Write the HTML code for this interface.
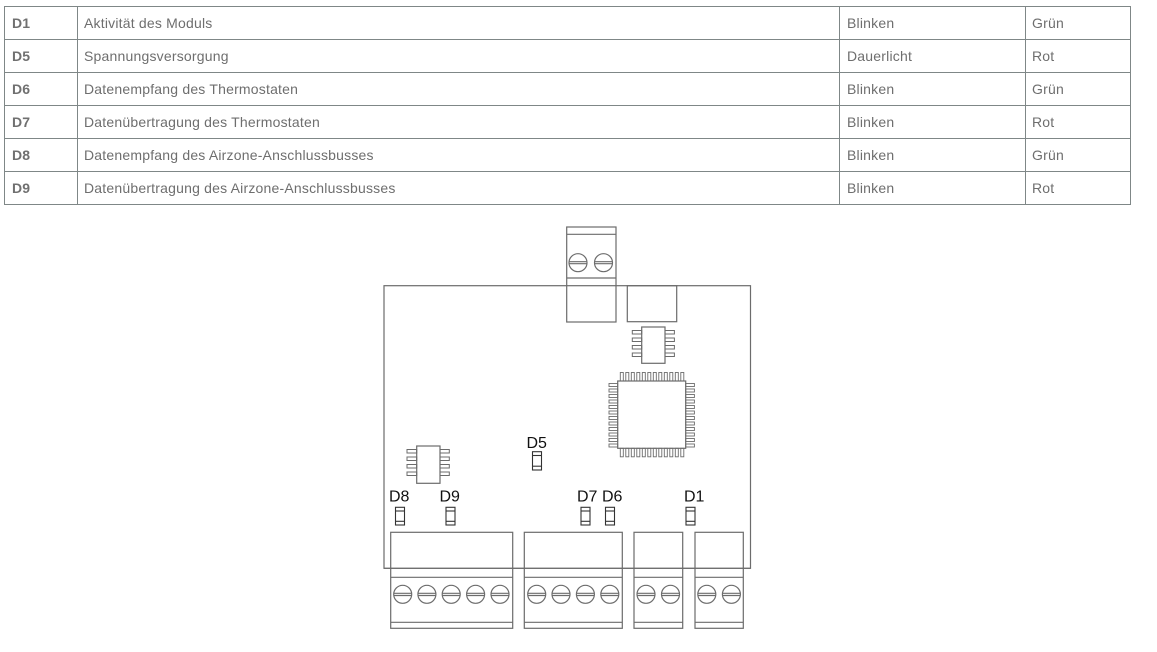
<!DOCTYPE html>
<html><head><meta charset="utf-8"><style>
html,body{margin:0;padding:0;background:#fff;}
svg{display:block;}
</style></head><body>
<svg width="1157" height="652" viewBox="0 0 1157 652" xmlns="http://www.w3.org/2000/svg">
<rect width="1157" height="652" fill="#fff"/>
<!-- Table -->
<g stroke="#7f8787" stroke-width="1" fill="none" shape-rendering="crispEdges">
<rect x="4.5" y="6.5" width="1126" height="198"/>
<line x1="4.5" y1="39.5" x2="1130.5" y2="39.5"/>
<line x1="4.5" y1="72.5" x2="1130.5" y2="72.5"/>
<line x1="4.5" y1="105.5" x2="1130.5" y2="105.5"/>
<line x1="4.5" y1="138.5" x2="1130.5" y2="138.5"/>
<line x1="4.5" y1="171.5" x2="1130.5" y2="171.5"/>
<line x1="77.5" y1="6.5" x2="77.5" y2="204.5"/>
<line x1="839.5" y1="6.5" x2="839.5" y2="204.5"/>
<line x1="1025.5" y1="6.5" x2="1025.5" y2="204.5"/>
</g>
<g font-family="Liberation Sans, Arial, sans-serif" font-size="14" fill="#6e6e6e" letter-spacing="0.2">
<g font-weight="bold" fill="#707070">
<text x="12" y="28">D1</text>
<text x="12" y="61">D5</text>
<text x="12" y="94">D6</text>
<text x="12" y="127">D7</text>
<text x="12" y="160">D8</text>
<text x="12" y="193">D9</text>
</g>
<text x="84" y="28">Aktivität des Moduls</text>
<text x="84" y="61">Spannungsversorgung</text>
<text x="84" y="94">Datenempfang des Thermostaten</text>
<text x="84" y="127">Datenübertragung des Thermostaten</text>
<text x="84" y="160">Datenempfang des Airzone-Anschlussbusses</text>
<text x="84" y="193">Datenübertragung des Airzone-Anschlussbusses</text>
<text x="847" y="28">Blinken</text>
<text x="847" y="61">Dauerlicht</text>
<text x="847" y="94">Blinken</text>
<text x="847" y="127">Blinken</text>
<text x="847" y="160">Blinken</text>
<text x="847" y="193">Blinken</text>
<text x="1032" y="28">Grün</text>
<text x="1032" y="61">Rot</text>
<text x="1032" y="94">Grün</text>
<text x="1032" y="127">Rot</text>
<text x="1032" y="160">Grün</text>
<text x="1032" y="193">Rot</text>
</g>

<!-- Board diagram -->
<g stroke="#6c6c6c" stroke-width="1.2" fill="none">
<!-- board -->
<rect x="384" y="285.7" width="366.5" height="282.6"/>
<!-- top connector -->
<rect x="566.7" y="227" width="49.3" height="95"/>
<line x1="566.7" y1="234.3" x2="616" y2="234.3"/>
<line x1="566.7" y1="278" x2="616" y2="278"/>
<circle cx="578" cy="262.7" r="9"/>
<line x1="569" y1="261.7" x2="587" y2="261.7"/>
<line x1="569" y1="263.7" x2="587" y2="263.7"/>
<circle cx="603.5" cy="262.7" r="9"/>
<line x1="594.5" y1="261.7" x2="612.5" y2="261.7"/>
<line x1="594.5" y1="263.7" x2="612.5" y2="263.7"/>
<!-- box -->
<rect x="627.3" y="285.7" width="49.4" height="36"/>
<!-- small chip top -->
<rect x="641.7" y="327" width="23.3" height="36.3"/>
<g stroke-width="1">
<rect x="632.3" y="330.5" width="9.4" height="3.5"/>
<rect x="632.3" y="338" width="9.4" height="3.5"/>
<rect x="632.3" y="345.5" width="9.4" height="3.5"/>
<rect x="632.3" y="353" width="9.4" height="3.5"/>
<rect x="665" y="330.5" width="9.4" height="3.5"/>
<rect x="665" y="338" width="9.4" height="3.5"/>
<rect x="665" y="345.5" width="9.4" height="3.5"/>
<rect x="665" y="353" width="9.4" height="3.5"/>
</g>
<!-- small chip left -->
<rect x="416.7" y="446" width="23.3" height="37.3"/>
<g stroke-width="1">
<rect x="407" y="449.5" width="9.7" height="3.5"/>
<rect x="407" y="457" width="9.7" height="3.5"/>
<rect x="407" y="464.5" width="9.7" height="3.5"/>
<rect x="407" y="472" width="9.7" height="3.5"/>
<rect x="440" y="449.5" width="9.3" height="3.5"/>
<rect x="440" y="457" width="9.3" height="3.5"/>
<rect x="440" y="464.5" width="9.3" height="3.5"/>
<rect x="440" y="472" width="9.3" height="3.5"/>
</g>
<!-- QFP chip -->
<rect x="617.7" y="381" width="68" height="67.3"/>
<g stroke-width="0.9">
<rect x="620.3" y="372.5" width="3" height="8.5"/>
<rect x="625.8" y="372.5" width="3" height="8.5"/>
<rect x="631.3" y="372.5" width="3" height="8.5"/>
<rect x="636.8" y="372.5" width="3" height="8.5"/>
<rect x="642.3" y="372.5" width="3" height="8.5"/>
<rect x="647.8" y="372.5" width="3" height="8.5"/>
<rect x="653.3" y="372.5" width="3" height="8.5"/>
<rect x="658.8" y="372.5" width="3" height="8.5"/>
<rect x="664.3" y="372.5" width="3" height="8.5"/>
<rect x="669.8" y="372.5" width="3" height="8.5"/>
<rect x="675.3" y="372.5" width="3" height="8.5"/>
<rect x="680.8" y="372.5" width="3" height="8.5"/>

<rect x="620.3" y="448.3" width="3" height="8.5"/>
<rect x="625.8" y="448.3" width="3" height="8.5"/>
<rect x="631.3" y="448.3" width="3" height="8.5"/>
<rect x="636.8" y="448.3" width="3" height="8.5"/>
<rect x="642.3" y="448.3" width="3" height="8.5"/>
<rect x="647.8" y="448.3" width="3" height="8.5"/>
<rect x="653.3" y="448.3" width="3" height="8.5"/>
<rect x="658.8" y="448.3" width="3" height="8.5"/>
<rect x="664.3" y="448.3" width="3" height="8.5"/>
<rect x="669.8" y="448.3" width="3" height="8.5"/>
<rect x="675.3" y="448.3" width="3" height="8.5"/>
<rect x="680.8" y="448.3" width="3" height="8.5"/>

<rect x="609" y="383.5" width="8.7" height="3"/>
<rect x="609" y="389" width="8.7" height="3"/>
<rect x="609" y="394.5" width="8.7" height="3"/>
<rect x="609" y="400" width="8.7" height="3"/>
<rect x="609" y="405.5" width="8.7" height="3"/>
<rect x="609" y="411" width="8.7" height="3"/>
<rect x="609" y="416.5" width="8.7" height="3"/>
<rect x="609" y="422" width="8.7" height="3"/>
<rect x="609" y="427.5" width="8.7" height="3"/>
<rect x="609" y="433" width="8.7" height="3"/>
<rect x="609" y="438.5" width="8.7" height="3"/>
<rect x="609" y="444" width="8.7" height="3"/>

<rect x="685.7" y="383.5" width="8.7" height="3"/>
<rect x="685.7" y="389" width="8.7" height="3"/>
<rect x="685.7" y="394.5" width="8.7" height="3"/>
<rect x="685.7" y="400" width="8.7" height="3"/>
<rect x="685.7" y="405.5" width="8.7" height="3"/>
<rect x="685.7" y="411" width="8.7" height="3"/>
<rect x="685.7" y="416.5" width="8.7" height="3"/>
<rect x="685.7" y="422" width="8.7" height="3"/>
<rect x="685.7" y="427.5" width="8.7" height="3"/>
<rect x="685.7" y="433" width="8.7" height="3"/>
<rect x="685.7" y="438.5" width="8.7" height="3"/>
<rect x="685.7" y="444" width="8.7" height="3"/>
</g>
</g>

<!-- LEDs -->
<g stroke="#333" stroke-width="1.1" fill="none">
<rect x="532.5" y="451.7" width="9" height="18.3"/>
<line x1="532.5" y1="455.5" x2="541.5" y2="455.5"/>
<line x1="532.5" y1="466.2" x2="541.5" y2="466.2"/>

<rect x="395.5" y="507.3" width="9" height="17.7"/>
<line x1="395.5" y1="511" x2="404.5" y2="511"/>
<line x1="395.5" y1="521.3" x2="404.5" y2="521.3"/>

<rect x="446" y="507.3" width="9" height="17.7"/>
<line x1="446" y1="511" x2="455" y2="511"/>
<line x1="446" y1="521.3" x2="455" y2="521.3"/>

<rect x="581" y="507.3" width="9" height="17.7"/>
<line x1="581" y1="511" x2="590" y2="511"/>
<line x1="581" y1="521.3" x2="590" y2="521.3"/>

<rect x="605.5" y="507.3" width="9" height="17.7"/>
<line x1="605.5" y1="511" x2="614.5" y2="511"/>
<line x1="605.5" y1="521.3" x2="614.5" y2="521.3"/>

<rect x="686" y="507.3" width="9" height="17.7"/>
<line x1="686" y1="511" x2="695" y2="511"/>
<line x1="686" y1="521.3" x2="695" y2="521.3"/>
</g>
<g font-family="Liberation Sans, Arial, sans-serif" font-size="16" fill="#111">
<text x="526.5" y="447.8">D5</text>
<text x="389" y="501.3">D8</text>
<text x="439.5" y="501.3">D9</text>
<text x="577" y="501.3">D7</text>
<text x="602" y="501.3">D6</text>
<text x="684" y="501.3">D1</text>
</g>

<!-- Bottom connectors -->
<g stroke="#6c6c6c" stroke-width="1.2" fill="none">
<rect x="390.7" y="532.3" width="122" height="96"/>
<line x1="390.7" y1="577.3" x2="512.7" y2="577.3"/>
<line x1="390.7" y1="622.3" x2="512.7" y2="622.3"/>
<rect x="524.3" y="532.3" width="98" height="96"/>
<line x1="524.3" y1="577.3" x2="622.3" y2="577.3"/>
<line x1="524.3" y1="622.3" x2="622.3" y2="622.3"/>
<rect x="634" y="532.3" width="48.7" height="96"/>
<line x1="634" y1="577.3" x2="682.7" y2="577.3"/>
<line x1="634" y1="622.3" x2="682.7" y2="622.3"/>
<rect x="695" y="532.3" width="48.3" height="96"/>
<line x1="695" y1="577.3" x2="743.3" y2="577.3"/>
<line x1="695" y1="622.3" x2="743.3" y2="622.3"/>
<line x1="384" y1="568.3" x2="750.5" y2="568.3"/>
</g>
<g stroke="#6c6c6c" stroke-width="1.2" fill="none">
<circle cx="402.7" cy="594.3" r="9"/><line x1="393.7" y1="593.3" x2="411.7" y2="593.3"/><line x1="393.7" y1="595.5" x2="411.7" y2="595.5"/>
<circle cx="426.9" cy="594.3" r="9"/><line x1="417.9" y1="593.3" x2="435.9" y2="593.3"/><line x1="417.9" y1="595.5" x2="435.9" y2="595.5"/>
<circle cx="451.2" cy="594.3" r="9"/><line x1="442.2" y1="593.3" x2="460.2" y2="593.3"/><line x1="442.2" y1="595.5" x2="460.2" y2="595.5"/>
<circle cx="475.6" cy="594.3" r="9"/><line x1="466.6" y1="593.3" x2="484.6" y2="593.3"/><line x1="466.6" y1="595.5" x2="484.6" y2="595.5"/>
<circle cx="500" cy="594.3" r="9"/><line x1="491" y1="593.3" x2="509" y2="593.3"/><line x1="491" y1="595.5" x2="509" y2="595.5"/>

<circle cx="536.7" cy="594.3" r="9"/><line x1="527.7" y1="593.3" x2="545.7" y2="593.3"/><line x1="527.7" y1="595.5" x2="545.7" y2="595.5"/>
<circle cx="561" cy="594.3" r="9"/><line x1="552" y1="593.3" x2="570" y2="593.3"/><line x1="552" y1="595.5" x2="570" y2="595.5"/>
<circle cx="585.4" cy="594.3" r="9"/><line x1="576.4" y1="593.3" x2="594.4" y2="593.3"/><line x1="576.4" y1="595.5" x2="594.4" y2="595.5"/>
<circle cx="609.8" cy="594.3" r="9"/><line x1="600.8" y1="593.3" x2="618.8" y2="593.3"/><line x1="600.8" y1="595.5" x2="618.8" y2="595.5"/>

<circle cx="646" cy="594.3" r="9"/><line x1="637" y1="593.3" x2="655" y2="593.3"/><line x1="637" y1="595.5" x2="655" y2="595.5"/>
<circle cx="670.5" cy="594.3" r="9"/><line x1="661.5" y1="593.3" x2="679.5" y2="593.3"/><line x1="661.5" y1="595.5" x2="679.5" y2="595.5"/>

<circle cx="706.8" cy="594.3" r="9"/><line x1="697.8" y1="593.3" x2="715.8" y2="593.3"/><line x1="697.8" y1="595.5" x2="715.8" y2="595.5"/>
<circle cx="731.4" cy="594.3" r="9"/><line x1="722.4" y1="593.3" x2="740.4" y2="593.3"/><line x1="722.4" y1="595.5" x2="740.4" y2="595.5"/>
</g>
</svg>
</body></html>
